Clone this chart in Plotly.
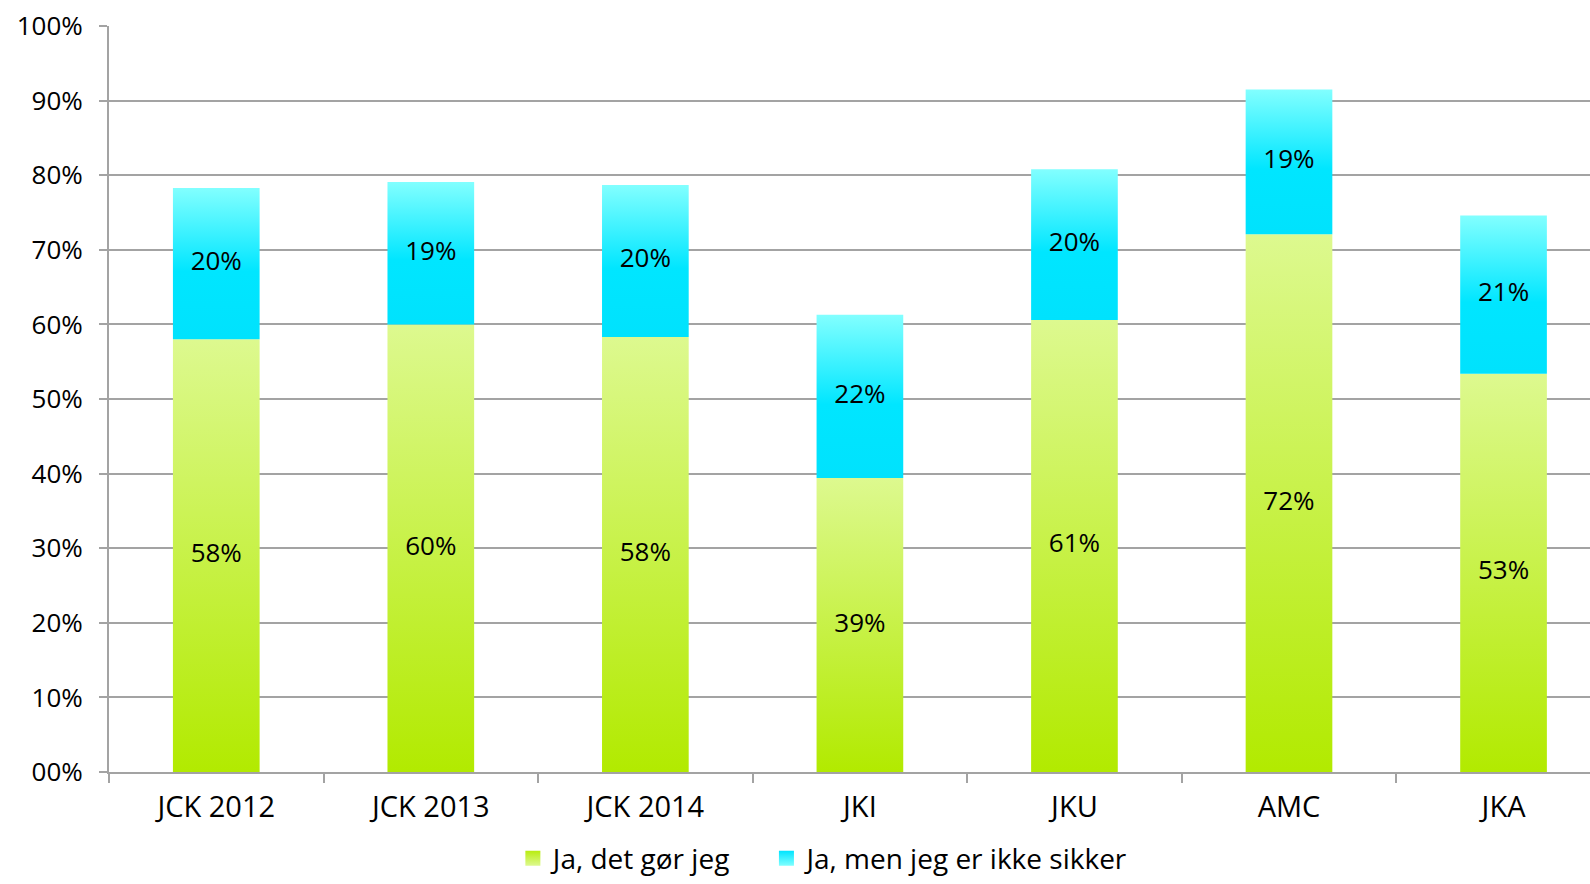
import plotly.graph_objects as go

categories = ["JCK 2012", "JCK 2013", "JCK 2014", "JKI", "JKU", "AMC", "JKA"]
sure_values = [58.0, 60.0, 58.3, 39.4, 60.6, 72.1, 53.4]      # Ja, det gør jeg
unsure_values = [20.3, 19.1, 20.4, 21.9, 20.2, 19.4, 21.2]    # Ja, men jeg er ikke sikker
series_names = ["Ja, det gør jeg", "Ja, men jeg er ikke sikker"]
y_tick_vals = [0, 10, 20, 30, 40, 50, 60, 70, 80, 90, 100]
y_tick_text = ["00%", "10%", "20%", "30%", "40%", "50%", "60%", "70%", "80%", "90%", "100%"]

FONT = "Open Sans"
GRID = "#a3a3a3"
BAR_W = 0.404
green_scale = [[0, "#b2ea00"], [1, "#ddf98f"]]
cyan_scale = [[0, "#00e2fd"], [0.45, "#00e6ff"], [1, "#82ffff"]]

fig = go.Figure()

def add_segment(i, base, value, scale):
    x0, x1 = i - BAR_W / 2, i + BAR_W / 2
    top = base + value
    fig.add_trace(go.Scatter(
        x=[x0, x1, x1, x0, x0], y=[base, base, top, top, base],
        mode="lines", fill="toself", line=dict(width=0, color="rgba(0,0,0,0)"),
        fillgradient=dict(type="vertical", colorscale=scale, start=base, stop=top),
        showlegend=False, hoverinfo="skip"))

for i, (g, c) in enumerate(zip(sure_values, unsure_values)):
    add_segment(i, 0, g, green_scale)
    add_segment(i, g, c, cyan_scale)

xs = list(range(len(categories)))
fig.add_trace(go.Scatter(
    x=xs, y=[g / 2 for g in sure_values], mode="text",
    text=[f"{round(g)}%" for g in sure_values],
    textfont=dict(family=FONT, size=26, color="black"), showlegend=False, hoverinfo="skip"))
fig.add_trace(go.Scatter(
    x=xs, y=[g + c / 2 for g, c in zip(sure_values, unsure_values)], mode="text",
    text=[f"{round(c)}%" for c in unsure_values],
    textfont=dict(family=FONT, size=26, color="black"), showlegend=False, hoverinfo="skip"))

# legend entries
fig.add_trace(go.Scatter(x=[None], y=[None], mode="markers",
                         name=series_names[0] + "\u00a0\u00a0\u00a0\u00a0",
                         marker=dict(symbol="square", size=15, color="#b8ec10",
                                     gradient=dict(type="vertical", color="#ddf98f"))))
fig.add_trace(go.Scatter(x=[None], y=[None], mode="markers", name=series_names[1],
                         marker=dict(symbol="square", size=15, color="#00e4ff",
                                     gradient=dict(type="vertical", color="#80ffff"))))

fig.update_layout(
    width=1590, height=884,
    margin=dict(l=109, r=0, t=26, b=112, autoexpand=False),
    plot_bgcolor="white", paper_bgcolor="white",
    font=dict(family=FONT, color="black"),
    showlegend=True,
    legend=dict(orientation="h", x=0.2727, xanchor="left", y=-0.1495, yanchor="bottom",
                font=dict(family=FONT, size=28, color="black"), itemwidth=30,
                borderwidth=0, bgcolor="rgba(0,0,0,0)"),
    xaxis=dict(
        range=[-0.5, 6.403], tickmode="array", tickvals=xs, ticktext=categories,
        ticks="", showgrid=False, zeroline=False, automargin=False,
        showline=True, linecolor=GRID, linewidth=2,
        tickfont=dict(family=FONT, size=29, color="black"), ticklabelstandoff=8,
        minor=dict(tickmode="linear", tick0=0.5, dtick=1, ticks="outside", ticklen=9,
                   tickwidth=1.5, tickcolor=GRID, showgrid=False),
        fixedrange=True),
    yaxis=dict(
        range=[0, 100], tickmode="array", tickvals=y_tick_vals, ticktext=y_tick_text,
        ticks="outside", ticklen=8, tickwidth=1.5, tickcolor=GRID, automargin=False,
        showgrid=True, gridcolor=GRID, gridwidth=1.5, zeroline=False,
        showline=True, linecolor=GRID, linewidth=2,
        tickfont=dict(family=FONT, size=26, color="black"), ticklabelstandoff=11,
        fixedrange=True),
)

fig.write_html("out.html", config={"displayModeBar": False},
               post_script="document.body.style.margin='0';document.body.style.overflow='hidden';")
